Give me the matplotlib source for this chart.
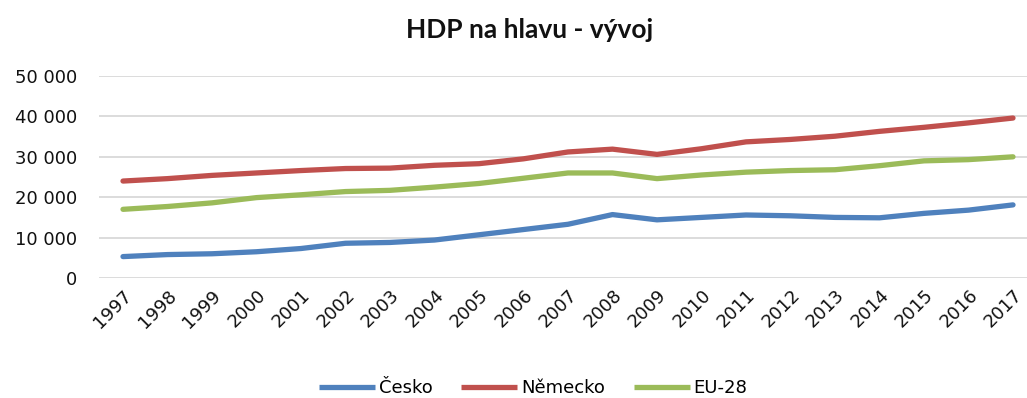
import matplotlib
matplotlib.use("Agg")
from matplotlib import pyplot as plt
from matplotlib.ticker import FuncFormatter

years = list(range(1997, 2018))
cesko = [5300, 5800, 6000, 6500, 7300, 8600, 8800, 9400, 10700, 12000, 13300,
         15700, 14400, 15000, 15600, 15400, 15000, 14900, 16000, 16800, 18100]
nemecko = [24000, 24600, 25400, 26000, 26600, 27100, 27200, 27900, 28300, 29500, 31200,
           31900, 30600, 32000, 33700, 34300, 35100, 36300, 37300, 38400, 39600]
eu28 = [17000, 17700, 18600, 19900, 20600, 21400, 21700, 22500, 23400, 24700, 26000,
        26000, 24600, 25500, 26200, 26600, 26800, 27800, 29000, 29300, 30000]

plt.rcParams["font.family"] = ["DejaVu Sans"]

fig = plt.figure(figsize=(10.27, 3.98), dpi=100)
ax = fig.add_axes([99 / 1027, 0.3015, 1 - 99 / 1027, 0.5075])

series = [("Česko", cesko, "#4F81BD"), ("Německo", nemecko, "#C0504D"), ("EU-28", eu28, "#9BBB59")]
for name, vals, col in series:
    ax.plot(years, vals, color=col, lw=3.8, solid_capstyle="round", label=name, zorder=3)

ax.set_ylim(0, 50000)
ax.set_yticks(range(0, 50001, 10000))
ax.yaxis.set_major_formatter(FuncFormatter(lambda v, p: f"{int(v):,}".replace(",", " ")))
ax.set_xlim(1997 - 24 / 44.5, 1997 + 904 / 44.5)
ax.set_xticks(years)
ax.set_xticklabels([str(y) for y in years], rotation=45, ha="right", rotation_mode="anchor")
ax.grid(axis="y", color="#D9D9D9", lw=1.3)
ax.set_axisbelow(True)
for s in ax.spines.values():
    s.set_visible(False)
ax.tick_params(axis="both", length=0, labelsize=13, colors="#111111")
ax.tick_params(axis="y", pad=16)
ax.tick_params(axis="x", pad=6)

fig.text(0.516, 0.925, "HDP na hlavu - vývoj", ha="center", va="center",
         fontsize=19, fontweight="bold", family=["Lato", "DejaVu Sans"], color="#111111")
leg = fig.legend(loc="center", bbox_to_anchor=(0.519, 0.025), ncol=3, frameon=False,
                 fontsize=13, handlelength=3.1, handletextpad=0.2, columnspacing=1.6)
for ln in leg.get_lines():
    ln.set_solid_capstyle("butt")

fig.savefig("out.png", dpi=100)
